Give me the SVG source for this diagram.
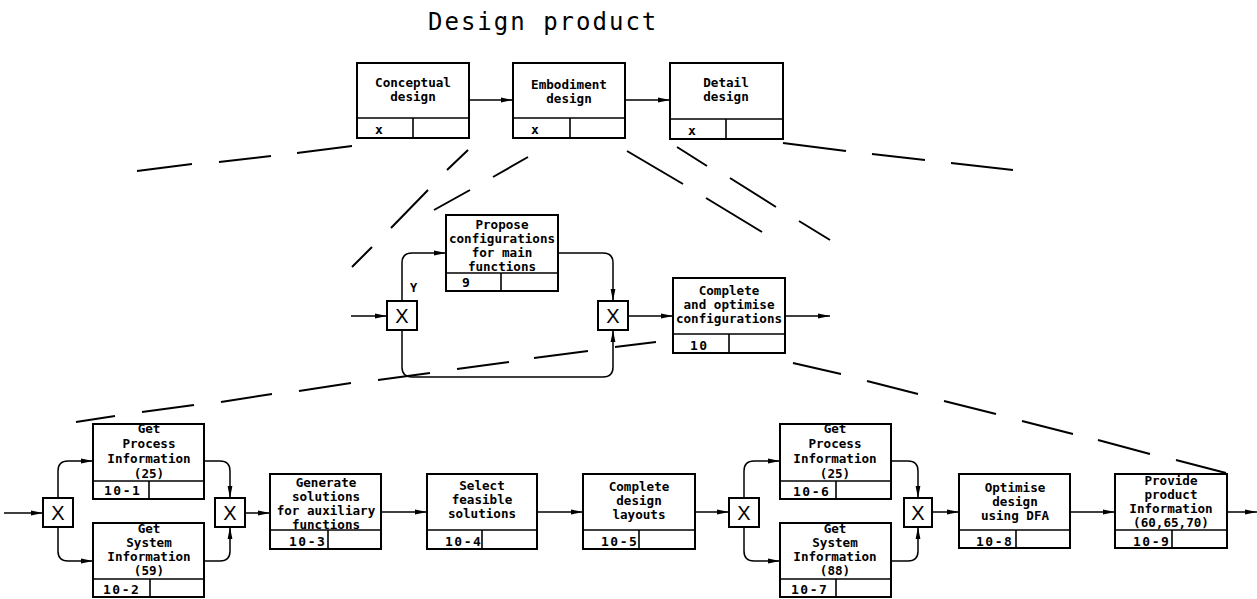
<svg xmlns="http://www.w3.org/2000/svg" width="1257" height="599" viewBox="0 0 1257 599">
<style>
.bx{fill:#fff;stroke:#000;stroke-width:2}
.ln{stroke:#000;stroke-width:1.6;fill:none}
.cn{stroke:#000;stroke-width:1.5;fill:none}
.zl{stroke:#000;stroke-width:2;fill:none}
.t{font-family:"DejaVu Sans Mono",monospace;font-size:12.6px;font-weight:bold;text-anchor:middle;fill:#000}
.c{font-family:"DejaVu Sans Mono",monospace;font-size:13px;font-weight:bold;letter-spacing:1.5px;fill:#000}
.g{font-family:"Liberation Sans",Arial,sans-serif;font-size:20px;text-anchor:middle;fill:#000}
.title{font-family:"DejaVu Sans Mono",monospace;font-size:24px;letter-spacing:2px;fill:#000}
</style>
<defs>
<marker id="ah" markerWidth="13" markerHeight="6" refX="12" refY="3" orient="auto" markerUnits="userSpaceOnUse">
<path d="M0,0.6 L12,3 L0,5.4 z" fill="#000"/>
</marker>
</defs>
<rect width="1257" height="599" fill="#fff"/>
<text class="title" x="428" y="30">Design product</text>

<!-- Top level -->
<g id="n-conceptual">
<rect class="bx" x="357" y="63" width="112" height="75"/>
<line class="ln" x1="357" y1="118" x2="469" y2="118"/><line class="ln" x1="413" y1="118" x2="413" y2="138"/>
<text class="t" x="413" y="87">Conceptual</text><text class="t" x="413" y="101">design</text>
<text class="c" x="375" y="134">x</text>
</g>
<g id="n-embodiment">
<rect class="bx" x="513" y="63" width="112" height="75"/>
<line class="ln" x1="513" y1="118" x2="625" y2="118"/><line class="ln" x1="570" y1="118" x2="570" y2="138"/>
<text class="t" x="569" y="89">Embodiment</text><text class="t" x="569" y="103">design</text>
<text class="c" x="531" y="134">x</text>
</g>
<g id="n-detail">
<rect class="bx" x="670" y="63" width="113" height="76"/>
<line class="ln" x1="670" y1="119" x2="783" y2="119"/><line class="ln" x1="726" y1="119" x2="726" y2="139"/>
<text class="t" x="726" y="87">Detail</text><text class="t" x="726" y="101">design</text>
<text class="c" x="688" y="135">x</text>
</g>

<!-- Middle level -->
<g id="n-propose">
<rect class="bx" x="446" y="215" width="112" height="76"/>
<line class="ln" x1="446" y1="273" x2="558" y2="273"/><line class="ln" x1="501" y1="273" x2="501" y2="291"/>
<text class="t" x="502" y="229">Propose</text><text class="t" x="502" y="243">configurations</text>
<text class="t" x="502" y="257">for main</text><text class="t" x="502" y="271">functions</text>
<text class="c" x="462" y="287">9</text>
</g>
<g id="n-complete-optimise">
<rect class="bx" x="673" y="278" width="112" height="75"/>
<line class="ln" x1="673" y1="334" x2="785" y2="334"/><line class="ln" x1="729" y1="334" x2="729" y2="353"/>
<text class="t" x="729" y="295">Complete</text><text class="t" x="729" y="309">and optimise</text>
<text class="t" x="729" y="323">configurations</text>
<text class="c" x="690" y="350">10</text>
</g>
<g id="gate-m1"><rect class="bx" x="387" y="301" width="30" height="29"/><text class="g" x="402" y="323">X</text></g>
<g id="gate-m2"><rect class="bx" x="598" y="301" width="30" height="29"/><text class="g" x="613" y="323">X</text></g>
<text class="c" x="410" y="292" style="font-size:12px">Y</text>

<!-- Bottom level -->
<g id="n-10-1">
<rect class="bx" x="93" y="424" width="111" height="75"/>
<line class="ln" x1="93" y1="481" x2="204" y2="481"/><line class="ln" x1="149" y1="481" x2="149" y2="499"/>
<text class="t" x="149" y="433">Get</text><text class="t" x="149" y="448">Process</text>
<text class="t" x="149" y="463">Information</text><text class="t" x="149" y="478">(25)</text>
<text class="c" x="104" y="495">10-1</text>
</g>
<g id="n-10-2">
<rect class="bx" x="93" y="523" width="111" height="74"/>
<line class="ln" x1="93" y1="579" x2="204" y2="579"/><line class="ln" x1="150" y1="579" x2="150" y2="597"/>
<text class="t" x="149" y="533">Get</text><text class="t" x="149" y="547">System</text>
<text class="t" x="149" y="561">Information</text><text class="t" x="149" y="575">(59)</text>
<text class="c" x="103" y="594">10-2</text>
</g>
<g id="n-10-3">
<rect class="bx" x="270" y="474" width="111" height="75"/>
<line class="ln" x1="270" y1="530" x2="381" y2="530"/><line class="ln" x1="328" y1="530" x2="328" y2="549"/>
<text class="t" x="326" y="487">Generate</text><text class="t" x="326" y="501">solutions</text>
<text class="t" x="326" y="515">for auxiliary</text><text class="t" x="326" y="529">functions</text>
<text class="c" x="289" y="546">10-3</text>
</g>
<g id="n-10-4">
<rect class="bx" x="427" y="474" width="110" height="75"/>
<line class="ln" x1="427" y1="530" x2="537" y2="530"/><line class="ln" x1="482" y1="530" x2="482" y2="549"/>
<text class="t" x="482" y="490">Select</text><text class="t" x="482" y="504">feasible</text>
<text class="t" x="482" y="518">solutions</text>
<text class="c" x="445" y="546">10-4</text>
</g>
<g id="n-10-5">
<rect class="bx" x="583" y="474" width="112" height="75"/>
<line class="ln" x1="583" y1="530" x2="695" y2="530"/><line class="ln" x1="639" y1="530" x2="639" y2="549"/>
<text class="t" x="639" y="491">Complete</text><text class="t" x="639" y="505">design</text>
<text class="t" x="639" y="519">layouts</text>
<text class="c" x="601" y="546">10-5</text>
</g>
<g id="n-10-6">
<rect class="bx" x="780" y="424" width="111" height="75"/>
<line class="ln" x1="780" y1="481" x2="891" y2="481"/><line class="ln" x1="836" y1="481" x2="836" y2="499"/>
<text class="t" x="835" y="433">Get</text><text class="t" x="835" y="448">Process</text>
<text class="t" x="835" y="463">Information</text><text class="t" x="835" y="478">(25)</text>
<text class="c" x="793" y="496">10-6</text>
</g>
<g id="n-10-7">
<rect class="bx" x="780" y="523" width="111" height="74"/>
<line class="ln" x1="780" y1="579" x2="891" y2="579"/><line class="ln" x1="836" y1="579" x2="836" y2="597"/>
<text class="t" x="835" y="533">Get</text><text class="t" x="835" y="547">System</text>
<text class="t" x="835" y="561">Information</text><text class="t" x="835" y="575">(88)</text>
<text class="c" x="791" y="594">10-7</text>
</g>
<g id="n-10-8">
<rect class="bx" x="959" y="474" width="111" height="74"/>
<line class="ln" x1="959" y1="530" x2="1070" y2="530"/><line class="ln" x1="1016" y1="530" x2="1016" y2="548"/>
<text class="t" x="1015" y="492">Optimise</text><text class="t" x="1015" y="506">design</text>
<text class="t" x="1015" y="520">using DFA</text>
<text class="c" x="976" y="546">10-8</text>
</g>
<g id="n-10-9">
<rect class="bx" x="1115" y="474" width="112" height="74"/>
<line class="ln" x1="1115" y1="530" x2="1227" y2="530"/><line class="ln" x1="1172" y1="530" x2="1172" y2="548"/>
<text class="t" x="1171" y="485">Provide</text><text class="t" x="1171" y="499">product</text>
<text class="t" x="1171" y="513">Information</text><text class="t" x="1171" y="527">(60,65,70)</text>
<text class="c" x="1133" y="546">10-9</text>
</g>
<g id="gate-b1"><rect class="bx" x="43" y="498" width="30" height="29"/><text class="g" x="58" y="520">X</text></g>
<g id="gate-b2"><rect class="bx" x="215" y="498" width="30" height="29"/><text class="g" x="230" y="520">X</text></g>
<g id="gate-b3"><rect class="bx" x="729" y="498" width="30" height="29"/><text class="g" x="744" y="520">X</text></g>
<g id="gate-b4"><rect class="bx" x="904" y="498" width="28" height="29"/><text class="g" x="918" y="520">X</text></g>

<!-- Connectors -->
<g id="connectors">
<path class="cn" marker-end="url(#ah)" d="M469,100 H513"/>
<path class="cn" marker-end="url(#ah)" d="M625,100 H670"/>
<path class="cn" marker-end="url(#ah)" d="M351,316 H387"/>
<path class="cn" marker-end="url(#ah)" d="M402,301 V263 Q402,253 412,253 H446"/>
<path class="cn" marker-end="url(#ah)" d="M558,253 H603 Q613,253 613,263 V301"/>
<path class="cn" marker-end="url(#ah)" d="M402,330 V367 Q402,377 412,377 H603 Q613,377 613,367 V330"/>
<path class="cn" marker-end="url(#ah)" d="M628,316 H673"/>
<path class="cn" marker-end="url(#ah)" d="M785,316 H830"/>

<path class="cn" marker-end="url(#ah)" d="M4,513 H43"/>
<path class="cn" marker-end="url(#ah)" d="M58,498 V471 Q58,461 68,461 H93"/>
<path class="cn" marker-end="url(#ah)" d="M58,527 V551 Q58,561 68,561 H93"/>
<path class="cn" marker-end="url(#ah)" d="M204,461 H220 Q230,461 230,471 V498"/>
<path class="cn" marker-end="url(#ah)" d="M204,561 H220 Q230,561 230,551 V527"/>
<path class="cn" marker-end="url(#ah)" d="M245,513 H270"/>
<path class="cn" marker-end="url(#ah)" d="M381,512 H427"/>
<path class="cn" marker-end="url(#ah)" d="M537,512 H583"/>
<path class="cn" marker-end="url(#ah)" d="M695,512 H729"/>
<path class="cn" marker-end="url(#ah)" d="M744,498 V471 Q744,461 754,461 H780"/>
<path class="cn" marker-end="url(#ah)" d="M744,527 V551 Q744,561 754,561 H780"/>
<path class="cn" marker-end="url(#ah)" d="M891,461 H908 Q918,461 918,471 V498"/>
<path class="cn" marker-end="url(#ah)" d="M891,561 H908 Q918,561 918,551 V527"/>
<path class="cn" marker-end="url(#ah)" d="M932,512 H959"/>
<path class="cn" marker-end="url(#ah)" d="M1070,512 H1115"/>
<path class="cn" marker-end="url(#ah)" d="M1227,512 H1257"/>

<!-- decomposition (zoom) lines -->
<path class="zl" d="M137,171 L192,164 M219,162 L271,156 M297,153 L352,146"/>
<path class="zl" d="M468,150 L447,170 M428,190 L391,228 M372,247 L352,267"/>
<path class="zl" d="M528,157 L493,177 M470,190 L434,210"/>
<path class="zl" d="M627,151 L683,184 M706,198 L762,232"/>
<path class="zl" d="M677,147 L707,166 M730,178 L776,207 M799,221 L830,240"/>
<path class="zl" d="M783,143 L846,151 M872,154 L925,160 M951,163 L1013,170"/>
<path class="zl" d="M656,342 L615,347 M588,351 L534,358 M509,362 L457,369 M430,373 L378,380 M351,383 L299,391 M272,394 L221,402 M194,405 L142,412 M115,416 L76,422"/>
<path class="zl" d="M793,363 L841,374 M867,381 L918,394 M944,401 L996,414 M1022,421 L1073,434 M1098,440 L1150,454 M1176,460 L1226,473"/>
</g>
</svg>
